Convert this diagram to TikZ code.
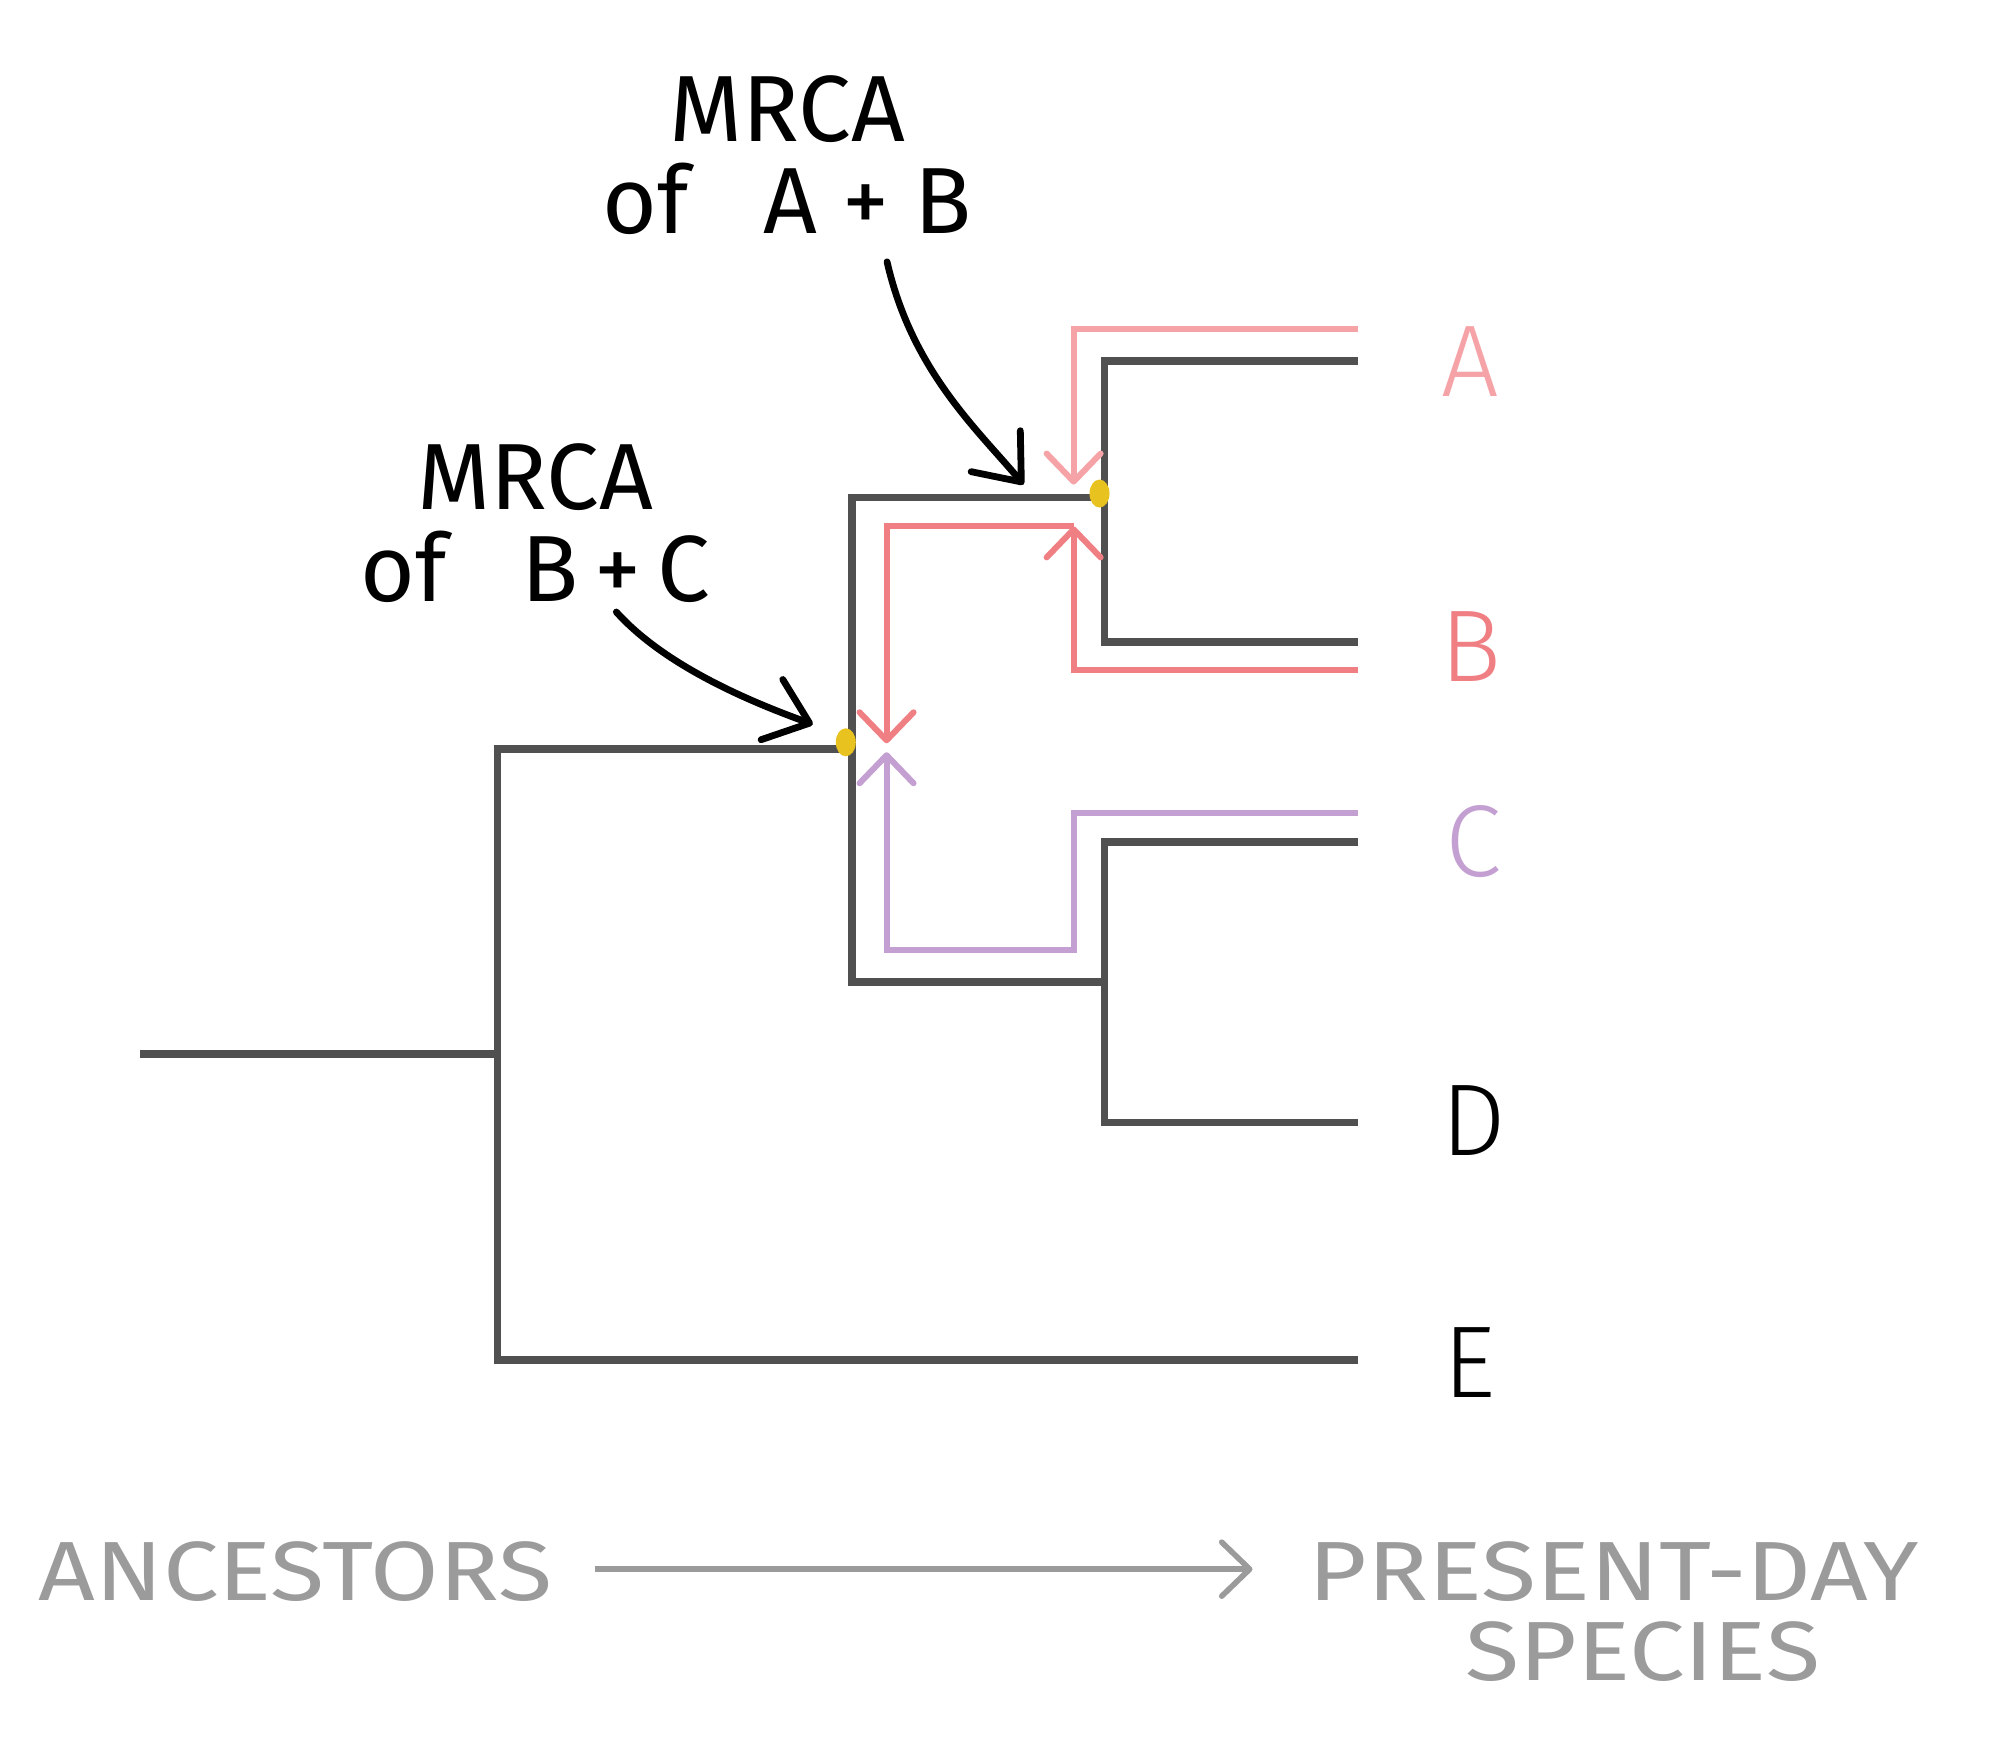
\documentclass[tikz,border=0pt]{standalone}
\usepackage{fontspec}
\setmainfont{Fira Sans}
\newfontfamily\thinfont{Fira Sans Light}
\usetikzlibrary{arrows.meta,shapes.geometric}

\definecolor{branchgray}{RGB}{80,80,80}
\definecolor{tipA}{RGB}{245,163,167}
\definecolor{tipB}{RGB}{240,127,132}
\definecolor{tipC}{RGB}{196,160,210}
\definecolor{dotyellow}{RGB}{232,194,30}
\definecolor{axisgray}{RGB}{155,155,155}

\begin{document}
\begin{tikzpicture}[x=0.4975pt,y=-0.4975pt,
  branch/.style={draw=branchgray,line width=3.8pt},
  trail/.style={line width=3pt,-{Straight Barb[length=14pt,width=27pt,round]}},
  note/.style={line width=3.4pt,line cap=round,-{Straight Barb[length=20pt,width=32pt,round]}},
  mrca/.style={ellipse,fill=dotyellow,inner sep=0pt,minimum width=10pt,minimum height=14pt},
  notelabel/.style={align=center,inner sep=0pt,font=\fontsize{47}{46}\selectfont},
  species/.style={inner sep=0pt,font=\thinfont\fontsize{51}{51}\selectfont},
  axislabel/.style={text=axisgray,inner sep=0pt,font=\fontsize{42}{42}\selectfont}]
  \useasboundingbox[fill=white] (0,0) rectangle (2010,1770);

  %Tree points
  \coordinate (root) at (141,1059);
  \coordinate (n0) at (500,1059);
  \coordinate (bc) at (856,753);
  \coordinate (ab) at (1110,500);
  \coordinate (cd) at (1110,987);
  \coordinate (tA) at (1365,363);
  \coordinate (tB) at (1365,645);
  \coordinate (tC) at (1365,846);
  \coordinate (tD) at (1365,1128);
  \coordinate (tE) at (1365,1367);

  %Branches
  \draw[branch] (root) -- (n0);
  \draw[branch] (bc) -| (n0) |- (tE);
  \draw[branch] (ab) -| (bc) |- (cd);
  \draw[branch] (tA) -| (ab) |- (tB);
  \draw[branch] (tC) -| (cd) |- (tD);

  %Coloured trails
  \coordinate (a0) at (1365,331);
  \coordinate (a1) at (1079,487);
  \draw[trail,tipA] (a0) -| (a1);
  \coordinate (b0) at (1365,673);
  \coordinate (b1) at (1079,529);
  \coordinate (b2) at (891,747);
  \draw[trail,tipB] (b0) -| (b1);
  \draw[trail,tipB] (b1) -| (b2);
  \coordinate (c0) at (1365,817);
  \coordinate (c1) at (1079,955);
  \coordinate (c2) at (891,756);
  \draw[trail,tipC] (c0) -| (c1) -| (c2);

  %MRCA dots
  \node[mrca] (dAB) at (1105,496) {};
  \node[mrca] (dBC) at (850,746) {};

  % Text Node
  \node[species,text=tipA] (A) at (1478,363) {A};
  \node[species,text=tipB] (B) at (1478,650) {B};
  \node[species,text=tipC] (C) at (1481,846) {C};
  \node[species] (D) at (1481,1126) {D};
  \node[species] (E) at (1477,1369) {E};

  % Text Node
  \node[notelabel,anchor=south] (lblAB) at (791,236) {MRCA\\of~~~A~+~B};
  \node[notelabel,anchor=south] (lblBC) at (538,606) {MRCA\\of~~~B\,+\,C};
  \draw[note] ([xshift=50pt,yshift=-13.5pt]lblAB.south) .. controls +(25,110) and +(-45,-54) .. ([xshift=-38pt,yshift=4.5pt]dAB.center);
  \draw[note] ([xshift=40.5pt,yshift=-4.5pt]lblBC.south) .. controls +(45,50) and +(-75,-27) .. ([xshift=-16.5pt,yshift=9pt]dBC.center);

  % Text Node
  \node[axislabel] (ancestors) at (297,1579) {\scalebox{1.18}[1]{ANCESTORS}};
  \node[axislabel] (present) at (1622,1579) {\scalebox{1.2}[1]{PRESENT-DAY}};
  \node[axislabel] (speciesword) at (1651,1660) {\scalebox{1.18}[1]{SPECIES}};
  \draw[axisgray,line width=2.8pt,-{Straight Barb[length=14pt,width=27pt,round]}] ([xshift=21pt,yshift=1pt]ancestors.east) -- ([xshift=-28pt,yshift=1pt]present.west);
\end{tikzpicture}
\end{document}
